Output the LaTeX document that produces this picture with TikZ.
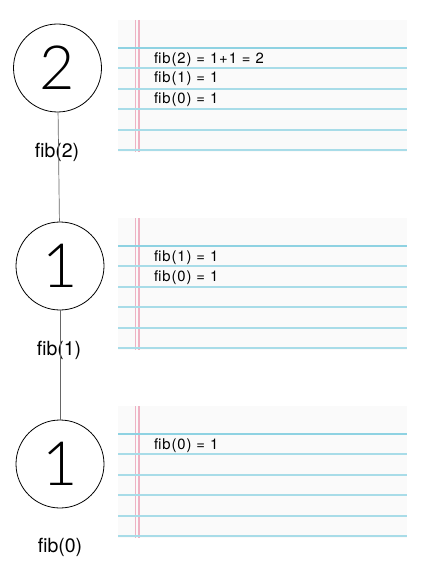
\documentclass[tikz,border=0pt]{standalone}
\usepackage{fontspec}
\setmainfont{TeX Gyre Heros}
\newfontfamily\thinfont{Lato Light}
\newfontfamily\notefont[LetterSpace=6]{TeX Gyre Heros}
\definecolor{ruleblue}{HTML}{A8DCE8}
\definecolor{ruletop}{HTML}{8ED2E2}
\definecolor{marginpink}{HTML}{EEB2C3}
\definecolor{paper}{HTML}{FAFAFA}
\begin{document}
\begin{tikzpicture}[x=1pt,y=-1pt,
  fibcircle/.style={circle,draw=black,line width=0.8pt,minimum size=88pt,inner sep=0pt,
    font=\thinfont\fontsize{61}{61}\selectfont},
  fiblabel/.style={font=\fontsize{19.5}{19.5}\selectfont,inner sep=0pt},
  notetext/.style={font=\notefont\fontsize{14.8}{14.8}\selectfont,anchor=base west,inner sep=0pt},
  link/.style={draw=black!60,line width=0.7pt}]
\useasboundingbox (0,0) rectangle (445,583);

% notebook panels
\foreach \top/\first in {20/47.7, 218/245.7, 406/433.7}{
  \fill[paper] (118,\top) rectangle (407,\first+104);
  \draw[marginpink,line width=1.5pt] (135.6,\top) -- (135.6,\first+104);
  \draw[marginpink,line width=1.5pt] (138.8,\top) -- (138.8,\first+104);
  \draw[ruletop,line width=2pt] (118,\first) -- (407,\first);
  \foreach \k in {1,...,5}{
    \draw[ruleblue,line width=1.8pt] (118,\first+20.5*\k) -- (407,\first+20.5*\k);
  }
}

% texts in panels
\node[notetext] (t22) at (154,63.5) {fib(2) = 1+1 = 2};
\node[notetext] (t21) at (154,83) {fib(1) = 1};
\node[notetext] (t20) at (154,103) {fib(0) = 1};
\node[notetext] (t11) at (154,261.5) {fib(1) = 1};
\node[notetext] (t10) at (154,281) {fib(0) = 1};
\node[notetext] (t00) at (154,449.5) {fib(0) = 1};

% labels
\node[fiblabel] (l2) at (57,152) {fib(2)};
\node[fiblabel] (l1) at (59,350) {fib(1)};
\node[fiblabel] (l0) at (60,547) {fib(0)};

% circles
\node[fibcircle] (c2) at (57.5,68) {2};
\node[fibcircle] (c1) at (60,266) {1};
\node[fibcircle] (c0) at (60,464) {1};

\draw[link] (c2) -- (c1);
\draw[link] (c1) -- (c0);
\end{tikzpicture}
\end{document}
